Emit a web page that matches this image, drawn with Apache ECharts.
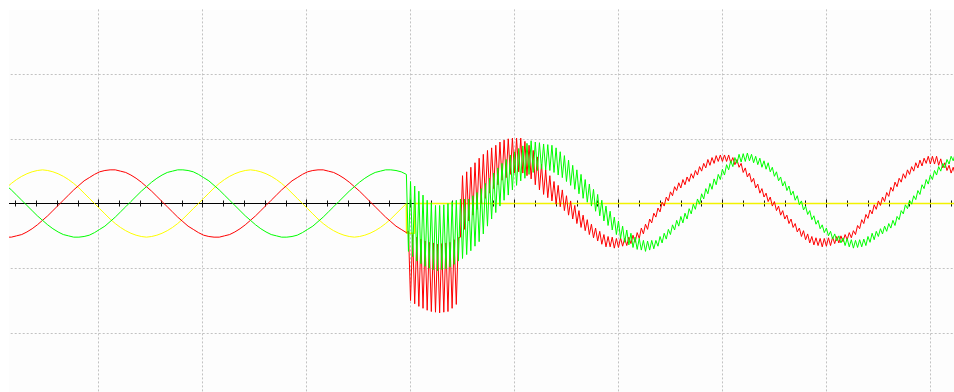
<!DOCTYPE html>
<html>
<head>
<meta charset="utf-8">
<script src="https://cdn.jsdelivr.net/npm/echarts@6/dist/echarts.min.js"></script>
<style>
html,body{margin:0;padding:0;background:#fff;}
#chart{width:954px;height:392px;}
</style>
</head>
<body>
<div id="chart"></div>
<script>
// time base (ms); 1 grid division = 10 ms, 1 vertical division = 100 units
const preStart = 0.6, preStep = 0.5;
const postStart = 39.6, postStep = 0.2;

const yellowPre = [16,24,31,37,42,46,49,51,52,51,49,46,42,37,31,24,16,8,0,-8,-16,-24,-31,-37,-42,-46,-49,-51,-52,-51,-49,-46,-42,-37,-31,-24,-16,-8,0,8,
 16,24,31,37,42,46,49,51,52,51,49,46,42,37,31,24,16,8,0,-8,-16,-24,-31,-37,-42,-46,-49,-51,-52,-51,-49,-46,-42,-37,-31,-24,-16,-8,0];
const redPre = [-51,-52,-52,-50,-48,-44,-39,-33,-26,-19,-11,-3,5,13,21,28,35,40,45,49,51,52,52,50,48,44,39,33,26,19,11,3,-5,-13,-21,-28,-35,-40,-45,-49,
 -51,-52,-52,-50,-48,-44,-39,-33,-26,-19,-11,-3,5,13,21,28,35,40,45,49,51,52,52,50,48,44,39,33,26,19,11,3,-5,-13,-21,-28,-35,-40,-45];
const greenPre = [35,28,21,13,5,-3,-11,-19,-26,-33,-39,-44,-48,-50,-52,-52,-51,-49,-45,-40,-35,-28,-21,-13,-5,3,11,19,26,33,39,44,48,50,52,52,51,49,45,40,
 35,28,21,13,5,-3,-11,-19,-26,-33,-39,-44,-48,-50,-52,-52,-51,-49,-45,-40,-35,-28,-21,-13,-5,3,11,19,26,33,39,44,48,50,52,52,51,49,45];

const yellowPostT = [39.6, 39.62, 40.4, 40.42, 96];
const yellowPostV = [0, -46, -46, 0, 0];

const redPost = [
 -43,-150,-48,-155,-52, -159,-55,-162,-58,-165, -60,-167,-61,-168,-63, -169,-62,-168,-61,-167,
 -60,-162,-56,-156,-53, -52,43,-40,49,-27, 56,-18,63,-9,70, 0,76,8,82,16,
 86,23,90,29,95, 36,98,40,100,45, 101,47,101,49,101, 47,96,43,90,38,
 82,29,72,21,61, 14,52,9,43,4, 34,-1,28,-5,21, -11,12,-18,4,-24,
 -3,-31,-11,-37,-18, -42,-25,-48,-32,-53, -38,-58,-43,-63,-48, -67,-51,-67,-52,-69,
 -54,-68,-53,-66,-54, -65,-52,-62,-49,-60, -45,-54,-38,-47,-32, -40,-24,-30,-15,-21,
 -7,-13,2,-4,10, 4,18,12,26,20, 32,24,37,29,41, 34,46,39,51,44,
 57,50,62,55,68, 59,71,62,74,65, 75,65,75,65,75, 63,71,60,68,56,
 62,48,55,41,47, 33,39,24,30,16, 23,10,16,3,10, -4,3,-11,-4,-18,
 -11,-24,-18,-31,-24, -37,-31,-44,-38,-51, -42,-56,-47,-61,-51, -64,-53,-65,-54,-67,
 -54,-66,-53,-65,-52, -62,-51,-61,-50,-59, -48,-56,-45,-53,-42, -48,-34,-39,-25,-31,
 -17,-23,-10,-16,-2, -9,4,-3,10,3, 17,11,25,19,33, 26,39,33,46,39,
 52,45,57,50,63, 55,67,58,70,62, 73,61,73,61,73, 59,69,55,63,51,
 59,47,56,44
];
const greenPost = [
 -74,34,-82,27,-89, 19,-93,13,-97,5, -100,1,-102,-3,-104, -3,-102,-2,-101,0,
 -98,3,-94,5,-89, 7,-85,7,-79,7, -73,12,-66,17,-59, 23,-47,31,-35,39,
 -24,47,-14,55,-4, 62,5,68,13,75, 21,80,28,85,35, 89,39,93,45,97,
 48,95,51,94,53, 92,52,91,51,90, 48,86,44,80,40, 74,34,67,28,59,
 22,52,15,45,8, 37,2,30,-4,22, -12,14,-19,5,-27, -4,-34,-12,-41,-21,
 -48,-27,-54,-35,-60, -41,-64,-46,-68,-52, -71,-54,-72,-57,-74, -58,-72,-57,-70,-57,
 -66,-51,-61,-46,-55, -40,-48,-33,-41,-26, -35,-20,-30,-15,-24, -8,-16,-1,-9,7,
 -1,15,7,23,15, 31,22,38,29,45, 37,53,44,60,52, 66,57,71,62,76,
 64,77,65,78,66, 76,63,73,60,70, 56,66,53,63,49, 56,42,49,35,41,
 27,34,20,27,13, 19,5,12,-2,4, -10,-4,-17,-11,-25, -19,-32,-26,-39,-33,
 -45,-38,-50,-43,-55, -47,-58,-50,-61,-53, -65,-54,-67,-56,-69, -57,-68,-56,-67,-55,
 -65,-51,-60,-46,-56, -43,-51,-39,-47,-35, -43,-31,-38,-26,-34, -20,-25,-11,-16,-2,
 -8,5,-1,12,6, 20,14,29,23,37, 30,44,37,51,44, 57,50,62,55,68,
 61,73,66,78
];

function prePoints(vals){ return vals.map((v,i)=>[preStart + i*preStep, v]); }
function postPoints(vals){ return vals.map((v,j)=>[postStart + (j+1)*postStep, v]); }

const yellowPreData = prePoints(yellowPre);
const yellowPostData = yellowPostT.map((t,k)=>[t, yellowPostV[k]]);
const redData = prePoints(redPre).concat(postPoints(redPost));
const greenData = prePoints(greenPre).concat(postPoints(greenPost));

const chart = echarts.init(document.getElementById('chart'), null, {renderer:'canvas'});
const gridLine = {show:true, lineStyle:{color:'#c2c2c2', width:1, type:[2,2]}};
const hiddenY = {type:'value', min:-300, max:300, interval:100,
     axisLine:{show:false}, axisTick:{show:false}, axisLabel:{show:false}, splitLine:{show:false}};
chart.setOption({
  animation:false,
  backgroundColor:'#ffffff',
  grid:{left:-5.3, right:-80.3, top:9.4, bottom:-5.6, containLabel:false, outerBoundsMode:'none'},
  graphic:[
    {type:'rect', z:-10, silent:true, shape:{x:9, y:10, width:945, height:382}, style:{fill:'#fdfdfd'}},
    {type:'rect', z:1000, silent:true, shape:{x:0, y:0, width:9, height:392}, style:{fill:'#ffffff'}}
  ],
  xAxis:[
    {type:'value', min:0, max:100, interval:10, position:'bottom',
     axisLine:{show:true, onZero:true, onZeroAxisIndex:0, lineStyle:{color:'#000', width:1}},
     axisTick:{show:true, length:4, lineStyle:{color:'#111', width:1}},
     minorTick:{show:true, splitNumber:5, length:3, lineStyle:{color:'#111', width:1}},
     axisLabel:{show:false},
     splitLine:gridLine},
    {type:'value', min:0, max:100, interval:10, position:'top',
     axisLine:{show:false, onZero:true, onZeroAxisIndex:1},
     axisTick:{show:true, length:4, lineStyle:{color:'#111', width:1}},
     minorTick:{show:true, splitNumber:5, length:3, lineStyle:{color:'#111', width:1}},
     axisLabel:{show:false},
     splitLine:{show:false}}
  ],
  yAxis:[
    {type:'value', min:-300, max:300, interval:100, position:'left',
     axisLine:{show:false}, axisTick:{show:false}, axisLabel:{show:false},
     splitLine:{show:true, showMaxLine:false, showMinLine:false, lineStyle:{color:'#c2c2c2', width:1, type:[2,2]}}},
    Object.assign({position:'right'}, hiddenY)
  ],
  series:[
    {type:'line', name:'C', data:yellowPreData, showSymbol:false, symbol:'none',
     lineStyle:{color:'#ffff00', width:1}, z:3},
    {type:'line', name:'C0', data:yellowPostData, showSymbol:false, symbol:'none',
     lineStyle:{color:'#f2f200', width:1.5}, z:3},
    {type:'line', name:'A', data:redData, showSymbol:false, symbol:'none',
     lineStyle:{color:'#ff0000', width:1}, z:4},
    {type:'line', name:'B', data:greenData, showSymbol:false, symbol:'none',
     lineStyle:{color:'#00ff00', width:1}, z:5}
  ]
});
</script>
</body>
</html>
